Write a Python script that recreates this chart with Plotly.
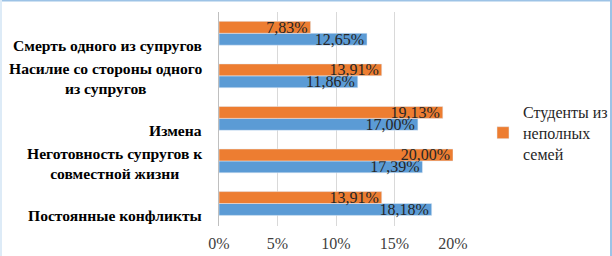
import plotly.graph_objects as go

categories = [
    "Постоянные конфликты",
    "Неготовность супругов к<br>совместной жизни",
    "Измена",
    "Насилие со стороны одного<br>из супругов",
    "Смерть одного из супругов",
]
blue_values = [18.18, 17.39, 17.00, 11.86, 12.65]
orange_values = [13.91, 20.00, 19.13, 13.91, 7.83]
orange_name = "Студенты из<br>неполных<br>семей"
x_ticks = [0, 5, 10, 15, 20]
x_tick_labels = ["0%", "5%", "10%", "15%", "20%"]


def fmt(v):
    return f"{v:.2f}".replace(".", ",") + "%"


serif = "Liberation Serif"
label_font = dict(family=serif, size=16, color="#262626")

fig = go.Figure()
fig.add_trace(go.Bar(
    y=categories, x=blue_values, orientation="h", name="blue",
    marker=dict(color="#5B9BD5"), showlegend=False,
    text=[fmt(v) for v in blue_values], textposition="inside",
    insidetextanchor="end", constraintext="none", textangle=0,
    textfont=label_font, cliponaxis=False,
))
fig.add_trace(go.Bar(
    y=categories, x=orange_values, orientation="h", name=orange_name,
    marker=dict(color="#ED7D31"),
    text=[fmt(v) for v in orange_values], textposition="inside",
    insidetextanchor="end", constraintext="none", textangle=0,
    textfont=label_font, cliponaxis=False,
))

annotations = []
for c in categories:
    two = "<br>" in c
    annotations.append(dict(
        x=0, xref="paper", y=c, yref="y", xanchor="right", yanchor="middle",
        xshift=-15, yshift=-3 if two else -12, align="center", showarrow=False,
        text=f"<b>{c}</b>",
        font=dict(family=serif, size=15.6, color="#000000"),
    ))

shapes = [
    dict(type="line", xref="paper", yref="paper", x0=-219/234, x1=393/234,
         y0=1 + 11.5/214, y1=1 + 11.5/214, line=dict(color="#9DC3E6", width=2)),
    dict(type="line", xref="paper", yref="paper", x0=392/234, x1=392/234,
         y0=-30/214, y1=1 + 12/214, line=dict(color="#9DC3E6", width=2)),
    dict(type="line", xref="paper", yref="paper", x0=-218/234, x1=-218/234,
         y0=-30/214, y1=1 + 12/214, line=dict(color="#DDEBF7", width=2)),
]

fig.update_layout(
    width=612, height=256,
    margin=dict(l=219, r=159, t=12, b=30, autoexpand=False),
    paper_bgcolor="white", plot_bgcolor="white",
    barmode="group", bargap=0.44, bargroupgap=0,
    font=dict(family=serif, color="#262626"),
    xaxis=dict(
        range=[0, 20], tickvals=x_ticks, ticktext=x_tick_labels,
        showgrid=True, gridcolor="#D9D9D9", gridwidth=1, zeroline=False,
        showline=False, ticks="", ticklabelstandoff=6, automargin=False,
        tickfont=dict(family=serif, size=16, color="#404040"),
    ),
    yaxis=dict(
        type="category", showticklabels=False, showgrid=False, zeroline=False,
        showline=True, linecolor="#BFBFBF", linewidth=1, ticks="", automargin=False,
    ),
    legend=dict(
        x=483/612, xref="container", y=1 - 95/256, yref="container",
        xanchor="left", yanchor="top", traceorder="reversed",
        font=dict(family=serif, size=16, color="#262626"),
        itemwidth=30, bgcolor="rgba(0,0,0,0)",
    ),
    annotations=annotations,
    shapes=shapes,
)

fig.write_html(
    "out.html",
    post_script="document.body.style.margin='0';document.body.style.overflow='hidden';",
    config={"displayModeBar": False},
)
